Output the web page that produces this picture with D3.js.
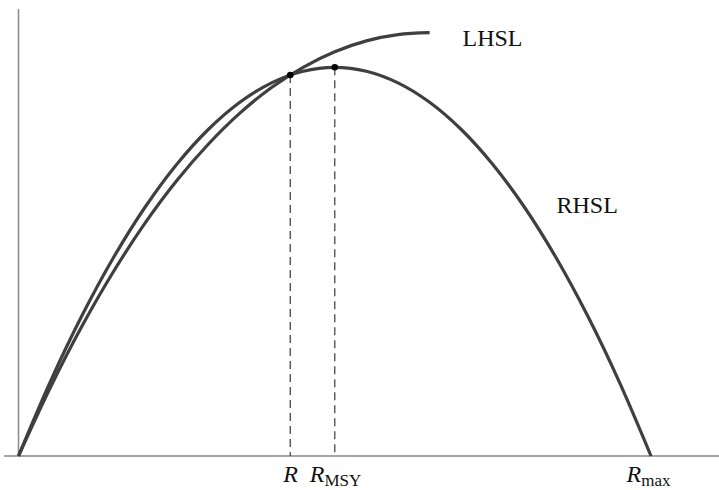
<!DOCTYPE html>
<html>
<head>
<meta charset="utf-8">
<script src="https://cdn.jsdelivr.net/npm/d3@7"></script>
<style>
  html, body { margin: 0; padding: 0; background: #fff; }
  svg { display: block; }
  text { font-family: "Liberation Serif", "Times New Roman", serif; fill: #111; }
</style>
</head>
<body>
<svg id="chart" width="719" height="490"></svg>
<script>
// Stock level R as a fraction of Rmax
const rhslR = [0, 0.05, 0.10, 0.15, 0.20, 0.25, 0.30, 0.35, 0.40, 0.45, 0.50,
               0.55, 0.60, 0.65, 0.70, 0.75, 0.80, 0.85, 0.90, 0.95, 1.00];
// Surplus production (relative to the MSY level)
const rhslV = [0, 0.19, 0.36, 0.51, 0.64, 0.75, 0.84, 0.91, 0.96, 0.99, 1.00,
               0.99, 0.96, 0.91, 0.84, 0.75, 0.64, 0.51, 0.36, 0.19, 0];

const lhslR = [0, 0.05, 0.10, 0.15, 0.20, 0.25, 0.30, 0.35, 0.40, 0.45, 0.50,
               0.55, 0.60, 0.65];
const lhslV = [0, 0.175, 0.333, 0.474, 0.599, 0.708, 0.802, 0.882, 0.948, 1.000,
               1.040, 1.068, 1.084, 1.089];

// Marked points: current R (where the curves cross) and R at MSY
const markR = [0.4297, 0.5];
const markV = [0.980, 1.0];
const tickLabels = [
  { r: 0.4297, main: "R", sub: "" },
  { r: 0.5, main: "R", sub: "MSY" },
  { r: 1.0, main: "R", sub: "max" }
];

const svg = d3.select("#chart");
const x = d3.scaleLinear().domain([0, 1]).range([18.5, 651]);
const y = d3.scaleLinear().domain([0, 1]).range([456, 67.3]);

// Axes
svg.append("line")
  .attr("x1", x(-0.0229)).attr("x2", x(1.11))
  .attr("y1", y(0)).attr("y2", y(0))
  .attr("stroke", "#888").attr("stroke-width", 1.5);
svg.append("line")
  .attr("x1", x(0)).attr("x2", x(0))
  .attr("y1", y(0)).attr("y2", y(1.15))
  .attr("stroke", "#888").attr("stroke-width", 1.5);

// Dashed drop lines
svg.selectAll("line.drop")
  .data(markR.map((r, i) => ({ r, v: markV[i] })))
  .join("line")
  .attr("class", "drop")
  .attr("x1", d => x(d.r)).attr("x2", d => x(d.r))
  .attr("y1", d => y(d.v)).attr("y2", y(0))
  .attr("stroke", "#555").attr("stroke-width", 1.4)
  .attr("stroke-dasharray", "8,5");

const line = d3.line()
  .x(d => x(d[0])).y(d => y(d[1]))
  .curve(d3.curveCatmullRom.alpha(0.5));

svg.append("path")
  .datum(rhslR.map((r, i) => [r, rhslV[i]]))
  .attr("d", line)
  .attr("fill", "none").attr("stroke", "#3f3f3f").attr("stroke-width", 3.2);

svg.append("path")
  .datum(lhslR.map((r, i) => [r, lhslV[i]]))
  .attr("d", line)
  .attr("fill", "none").attr("stroke", "#3f3f3f").attr("stroke-width", 3.2);

// Points
svg.selectAll("circle.mark")
  .data(markR.map((r, i) => ({ r, v: markV[i] })))
  .join("circle")
  .attr("class", "mark")
  .attr("cx", d => x(d.r)).attr("cy", d => y(d.v))
  .attr("r", 3.3).attr("fill", "#000");

// Curve labels
svg.append("text").attr("x", 462.5).attr("y", 46)
  .attr("font-size", 24).text("LHSL");
svg.append("text").attr("x", 556.5).attr("y", 213)
  .attr("font-size", 24).text("RHSL");

// Axis labels
const offsets = [-7, -25, -24.5];
tickLabels.forEach((t, i) => {
  const tx = svg.append("text")
    .attr("x", x(t.r) + offsets[i]).attr("y", 482)
    .attr("font-size", 24);
  tx.append("tspan").attr("font-style", "italic").text(t.main);
  if (t.sub) {
    tx.append("tspan").attr("font-size", 17).attr("dy", 4).text(t.sub);
  }
});
</script>
</body>
</html>
